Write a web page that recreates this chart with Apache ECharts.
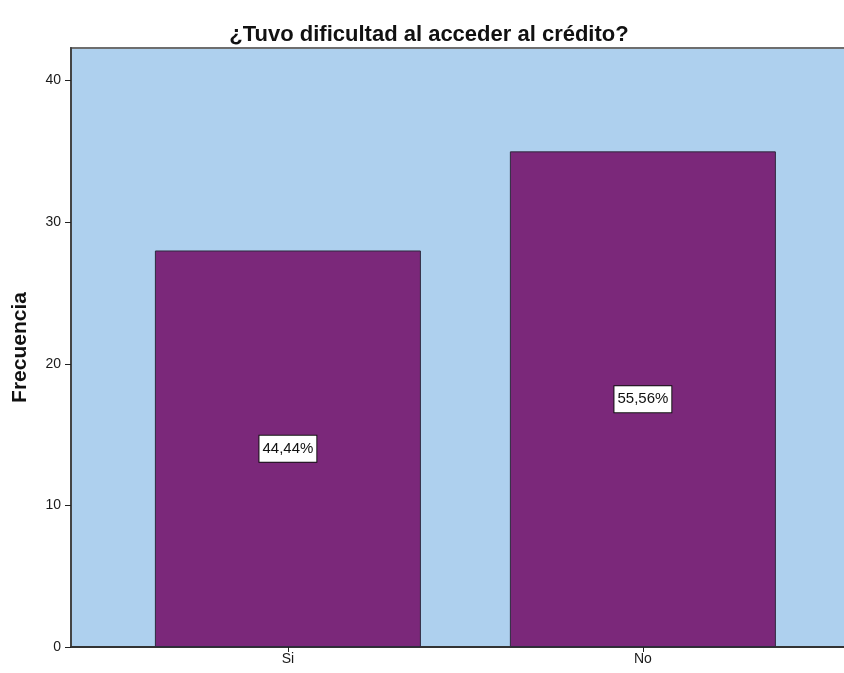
<!DOCTYPE html>
<html>
<head>
<meta charset="utf-8">
<script src="https://cdn.jsdelivr.net/npm/echarts@6/dist/echarts.min.js"></script>
<style>
  html, body { margin: 0; padding: 0; background: #ffffff; }
  #chart { width: 844px; height: 673px; }
</style>
</head>
<body>
<div id="chart"></div>
<script>
// Respuestas a la pregunta y su frecuencia
const categories = ['Si', 'No'];
const counts = [28, 35];
const yTicks = [0, 10, 20, 30, 40];

const total = counts.reduce((a, b) => a + b, 0);
const pctLabel = v => (v / total * 100).toFixed(2).replace('.', ',') + '%';

const font = "'Liberation Sans', Arial, sans-serif";
const chart = echarts.init(document.getElementById('chart'));

chart.setOption({
  animation: false,
  title: {
    text: '¿Tuvo dificultad al acceder al crédito?',
    left: 424,
    textAlign: 'center',
    top: 19,
    textStyle: { fontFamily: font, fontSize: 22, fontWeight: 'bold', color: '#111' }
  },
  grid: {
    left: 71, top: 48, bottom: 26, width: 776,
    outerBoundsMode: 'none',
    containLabel: false,
    show: true,
    backgroundColor: '#AED0EE',
    borderColor: '#6e6e6e',
    borderWidth: 2
  },
  xAxis: {
    type: 'value',
    min: -0.611,
    max: 1.575,
    splitLine: { show: false },
    axisLine: { onZero: false, lineStyle: { color: '#333', width: 2 } },
    axisTick: { customValues: [0, 1], length: 5, lineStyle: { color: '#222' } },
    axisLabel: {
      customValues: [0, 1],
      formatter: v => categories[Math.round(v)],
      fontFamily: font, fontSize: 14, color: '#1a1a1a', margin: 5
    }
  },
  yAxis: {
    type: 'value',
    min: 0,
    max: 42.3,
    name: 'Frecuencia',
    nameLocation: 'middle',
    nameRotate: 90,
    nameGap: 40,
    nameTextStyle: { fontFamily: font, fontSize: 21, fontWeight: 'bold', color: '#111' },
    splitLine: { show: false },
    axisLine: { show: true, onZero: false, lineStyle: { color: '#444', width: 2 } },
    axisTick: { show: true, customValues: yTicks, length: 6, lineStyle: { color: '#222' } },
    axisLabel: {
      customValues: yTicks,
      fontFamily: font, fontSize: 14, color: '#1a1a1a', margin: 10
    }
  },
  series: [{
    type: 'bar',
    barWidth: 266,
    data: counts.map((c, i) => [i, c]),
    itemStyle: { color: '#7B287A', borderColor: '#2E2A3E', borderWidth: 1 },
    label: {
      show: true,
      position: 'inside',
      formatter: p => pctLabel(p.value[1]),
      fontFamily: font, fontSize: 15, color: '#111',
      backgroundColor: '#ffffff',
      borderColor: '#111', borderWidth: 1,
      lineHeight: 16,
      padding: [5, 3]
    }
  }]
});
</script>
</body>
</html>
